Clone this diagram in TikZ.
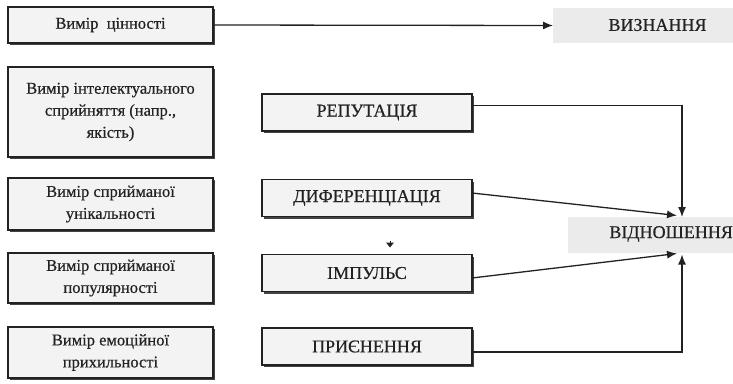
\documentclass[tikz,border=0pt]{standalone}
\usepackage{fontspec}
\setmainfont{Liberation Serif}[FakeBold=0.5]
\usepackage{tikz}
\usetikzlibrary{arrows.meta,shadows}
\definecolor{TintaOscura}{RGB}{34,34,34}
\definecolor{FondoCaja}{RGB}{243,243,243}
\definecolor{FondoMeta}{RGB}{235,235,235}

\begin{document}
\begin{tikzpicture}[x=1pt,y=-1pt,>={Latex[length=10pt,width=8pt]},
    medida/.style={draw=TintaOscura,line width=1.1pt,fill=FondoCaja,
      drop shadow={shadow xshift=2pt,shadow yshift=-2pt,fill=TintaOscura,opacity=0.85},
      inner sep=0pt,outer sep=0pt,minimum width=205pt,align=center,
      text=TintaOscura,font=\fontsize{16.5}{22}\selectfont},
    factor/.style={medida,minimum width=210pt,minimum height=37pt,
      font=\fontsize{18}{20}\selectfont},
    meta/.style={fill=FondoMeta,inner sep=0pt,outer sep=0pt},
    rotulo/.style={text=TintaOscura,inner sep=0pt,font=\fontsize{18}{20}\selectfont},
    flecha/.style={->,draw=TintaOscura,line width=1.3pt}]
  \useasboundingbox (0,0) rectangle (733,383);

  \node[medida,minimum height=36pt] (valor) at (110.5,25) {Вимір\ \ цінності};
  \node[medida,minimum height=90pt] (intel) at (110.5,112)
       {Вимір інтелектуального\\сприйняття (напр.,\\якість)};
  \node[medida,minimum height=52pt] (unik) at (110.5,204)
       {Вимір сприйманої\\унікальності};
  \node[medida,minimum height=50pt] (popul) at (110.5,278)
       {Вимір сприйманої\\популярності};
  \node[medida,minimum height=51pt] (emoc) at (110.5,352.5)
       {Вимір емоційної\\прихильності};

  \node[factor] (reput) at (367,112.5) {РЕПУТАЦІЯ};
  \node[factor] (difer) at (367,198) {ДИФЕРЕНЦІАЦІЯ};
  \node[factor] (impul) at (367,273) {ІМПУЛЬС};
  \node[factor] (prycn) at (367,346.5) {ПРИЄНЕННЯ};

  \node[meta,minimum width=180pt,minimum height=35pt] (vyzn) at (643,25.5) {};
  \node[rotulo] (vyznt) at (657.5,25) {ВИЗНАННЯ};
  \node[meta,minimum width=165pt,minimum height=36pt] (vidn) at (650.5,235) {};
  \node[rotulo,anchor=east] (vidnt) at (733,234) {ВІДНОШЕННЯ};

  \coordinate (vtop) at (682,217);
  \coordinate (vtopl) at (677,215.5);
  \coordinate (vbotl) at (677,253.5);
  \coordinate (vbot) at (682,254.5);

  \draw[flecha] (valor.east) -- (vyzn.west);
  \draw[flecha] ([yshift=7pt]reput.east) -| (vtop);
  \draw[flecha] ([yshift=5pt]difer.east) -- (vtopl);
  \draw[flecha] ([yshift=-5pt]impul.east) -- (vbotl);
  \draw[flecha] ([yshift=-5.5pt]prycn.east) -| (vbot);

  \fill[TintaOscura] (386,242.5) -- (394,242.5) -- (390,247.5) -- cycle;
  \draw[TintaOscura,line width=0.8pt] (390,240.5) -- (390,243);
\end{tikzpicture}
\end{document}
